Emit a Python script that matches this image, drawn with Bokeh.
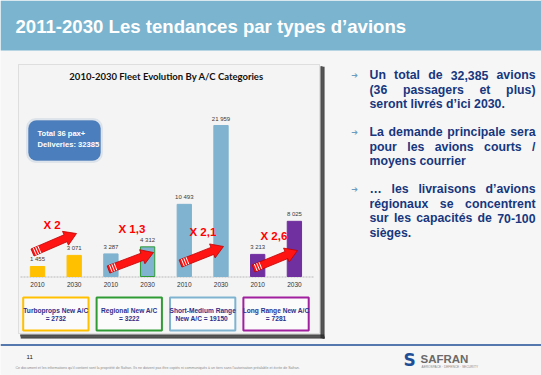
import numpy as np
from bokeh.plotting import figure
from bokeh.models import Range1d, BoxAnnotation
from bokeh.core.properties import value
from bokeh.embed import file_html
from bokeh.resources import INLINE

# ---------------- data ----------------
slide_title = "2011-2030 Les tendances par types d\u2019avions"
chart_title = "2010-2030 Fleet Evolution By A/C Categories"
years = ["2010", "2030"]
categories = ["Turboprops", "Regional", "Short-Medium Range", "Long Range"]
fleet_2010 = [1455, 3287, 10493, 3213]
fleet_2030 = [3071, 4312, 21959, 8025]
new_ac = [2732, 3222, 19150, 7281]
box_line1 = ["Turboprops New A/C", "Regional New A/C", "Short-Medium Range", "Long Range New A/C"]
box_line2 = ["= 2732", "= 3222", "New A/C  = 19150", "= 7281"]
growth_labels = ["X 2", "X 1,3", "X 2,1", "X 2,6"]
total_label = ["Total 36 pax+", "Deliveries: 32385"]
bar_colors = ["#ffc000", "#7fb3d0", "#7fb3d0", "#7030a0"]
box_colors = ["#ffc000", "#2e9b35", "#7fb3d0", "#a0209f"]
paragraphs = [
    ["Un total de 32,385 avions", "(36 passagers et plus)", "seront livr\u00e9s d\u2019ici 2030."],
    ["La demande principale sera", "pour les avions courts /", "moyens courrier"],
    ["\u2026 les livraisons d\u2019avions", "r\u00e9gionaux se concentrent",
     "sur les capacit\u00e9s de 70-100", "si\u00e8ges."],
]
footer_note = ("Ce document et les informations qu\u2019il contient sont la propri\u00e9t\u00e9 de Safran. "
               "Ils ne doivent pas \u00eatre copi\u00e9s ni communiqu\u00e9s \u00e0 un tiers sans l\u2019autorisation "
               "pr\u00e9alable et \u00e9crite de Safran.")

# ---------------- figure (pixel space, y down) ----------------
W, H = 541, 375
BG = "#f6f6f6"
p = figure(width=W, height=H, x_range=Range1d(0, W), y_range=Range1d(H, 0),
           x_axis_type=None, y_axis_type=None, toolbar_location=None,
           output_backend="svg", min_border=0)
p.grid.visible = False
p.outline_line_color = None
p.background_fill_color = BG
p.border_fill_color = BG

# bar scales: index axis and value axis mapped onto the slide
BAR0_PX, BAR_STEP_PX = 37.0, 36.7
BASE_PX, TOP_PX = 276.0, 125.0
vmax = max(fleet_2030 + fleet_2010)
vpp = vmax / (BASE_PX - TOP_PX)  # value per pixel
p.extra_x_ranges = {"bars": Range1d(-BAR0_PX / BAR_STEP_PX, (W - BAR0_PX) / BAR_STEP_PX)}
p.extra_y_ranges = {"vals": Range1d(-(H - BASE_PX) * vpp, BASE_PX * vpp)}

def ubox(**kw):
    p.add_layout(BoxAnnotation(level="underlay", fill_alpha=1, **kw))

# title band
ubox(left=0, right=W, top=0, bottom=50, fill_color="#7ab4cf", line_color=None)

# chart frame with dotted shadow
FL, FT, FR, FB = 18, 64, 319, 333
ubox(left=FR + 1, right=FR + 5, top=FT + 2, bottom=FB + 5, fill_color="#8c8c8c", line_color=None)
ubox(left=FL + 2, right=FR + 5, top=FB + 1, bottom=FB + 5, fill_color="#8c8c8c", line_color=None)
ubox(left=FL, right=FR, top=FT, bottom=FB, fill_color="#f4f4f4", line_color="#a8a8a8", line_width=1)
# total box
ubox(left=26, right=102, top=118, bottom=162, fill_color="#dde4ec", line_color="#c8d2de", border_radius=9)
ubox(left=28, right=100, top=120, bottom=160, fill_color="#4a7ebd", line_color="#3a6aa8",
     line_width=1, border_radius=8)

p.segment(x0=[FR + 2, FR + 4], y0=[FT + 2, FT + 3], x1=[FR + 2, FR + 4], y1=[FB + 5, FB + 5],
          line_color="#111111", line_width=2, line_dash="1 1")
p.segment(x0=[FL + 2, FL + 3], y0=[FB + 2, FB + 4], x1=[FR + 5, FR + 5], y1=[FB + 2, FB + 4],
          line_color="#111111", line_width=2, line_dash="1 1")

p.text(x=[15], y=[26], text=[slide_title], text_font=value("Liberation Sans"),
       text_font_style="bold", text_font_size="18.6px", text_color="white",
       text_baseline="middle", text_align="left")

p.text(x=[166], y=[76], text=[chart_title], text_font=value("Lato"), text_font_style="bold",
       text_font_size="9.5px", text_color="#111111", text_baseline="middle", text_align="center")

p.text(x=[37, 37], y=[132.5, 143.5], text=total_label, text_font=value("Liberation Sans"),
       text_font_style="bold", text_font_size="7.6px", text_color="white",
       text_align="left", text_baseline="middle")

# baseline
p.segment(x0=[FL + 2], y0=[BASE_PX + 0.5], x1=[FR - 6], y1=[BASE_PX + 0.5],
          line_color="#b8b8b8", line_width=1, line_dash="2 1")

# bars
n = len(categories)
idx = np.arange(2 * n)
vals = [v for pair in zip(fleet_2010, fleet_2030) for v in pair]
cols = [c for c in bar_colors for _ in years]
outline = list(cols)
outline[3] = "#2e9b35"
p.vbar(x=idx, top=vals, bottom=0, width=0.39, fill_color=cols, line_color=outline,
       line_width=1, x_range_name="bars", y_range_name="vals")

def fmt(v):
    return f"{v:,}".replace(",", " ")

p.text(x=idx, y=[v + 7 * vpp for v in vals], text=[fmt(v) for v in vals],
       text_font=value("Liberation Sans"), text_font_size="6px", text_color="#3a3a3a",
       text_align="center", text_baseline="middle", x_range_name="bars", y_range_name="vals")
p.text(x=idx, y=[-8 * vpp] * len(idx), text=[years[i % 2] for i in idx],
       text_font=value("Liberation Sans"), text_font_size="6.5px", text_color="#333333",
       text_align="center", text_baseline="middle", x_range_name="bars", y_range_name="vals")

# category boxes under bars
gx = np.arange(n) * 2
p.quad(left=gx - 0.39, right=gx + 1.39, top=[297] * n, bottom=[330] * n, fill_color="#fbfbfb",
       line_color=box_colors, line_width=2, x_range_name="bars")
p.text(x=gx + 0.5, y=[309.5] * n, text=box_line1, text_font=value("Liberation Sans"),
       text_font_style="bold", text_font_size="6.6px", text_color="#30308a",
       text_align="center", text_baseline="middle", x_range_name="bars")
p.text(x=gx + 0.5, y=[317.5] * n, text=box_line2, text_font=value("Liberation Sans"),
       text_font_style="bold", text_font_size="6.6px", text_color="#30308a",
       text_align="center", text_baseline="middle", x_range_name="bars")

# growth arrows
arrow_tails = [(32, 252), (108, 269), (180, 263), (253, 268)]
arrow_tips = [(76, 233), (153, 252), (223, 246), (297, 250)]
label_pos = [(43, 224), (118, 228), (189, 231), (260, 235)]
xs, ys, sx0, sy0, sx1, sy1 = [], [], [], [], [], []
for (x0, y0), (x1, y1) in zip(arrow_tails, arrow_tips):
    d = np.array([x1 - x0, y1 - y0], float)
    L = np.hypot(*d)
    u = d / L
    nrm = np.array([-u[1], u[0]])
    a = np.array([x0, y0], float)
    t = np.array([x1, y1], float)
    sw, hw, hl = 3.8, 7.5, 12.0
    b = t - u * hl
    pts = [a + nrm * sw, b + nrm * sw, b + nrm * hw, t, b - nrm * hw, b - nrm * sw, a - nrm * sw]
    xs.append([q[0] for q in pts])
    ys.append([q[1] for q in pts])
    for k in (2.5, 5.0, 7.5):
        c = a + u * k
        s0, s1 = c + nrm * sw, c - nrm * sw
        sx0.append(s0[0]); sy0.append(s0[1]); sx1.append(s1[0]); sy1.append(s1[1])
p.patches(xs=xs, ys=ys, fill_color="#ff1414", line_color="#c00000", line_width=0.8)
p.segment(x0=sx0, y0=sy0, x1=sx1, y1=sy1, line_color="white", line_width=1)
p.text(x=[q[0] for q in label_pos], y=[q[1] for q in label_pos], text=growth_labels,
       text_font=value("Liberation Sans"), text_font_style="bold", text_font_size="11.5px",
       text_color="#ff0000", text_align="left", text_baseline="middle")

# right-hand bullet text (justified)
AW = {' ': 278, 'a': 556, 'b': 611, 'c': 556, 'd': 611, 'e': 556, 'f': 333, 'g': 611, 'h': 611,
      'i': 278, 'j': 278, 'k': 556, 'l': 278, 'm': 889, 'n': 611, 'o': 611, 'p': 611, 'q': 611,
      'r': 389, 's': 556, 't': 333, 'u': 611, 'v': 556, 'w': 778, 'x': 556, 'y': 556, 'z': 500,
      '(': 333, ')': 333, ',': 278, '.': 278, '\u2019': 278, '/': 278, '-': 333, '\u00e9': 556,
      '\u00e8': 556, '\u2026': 1000, 'U': 722, 'L': 611}
FS = 12.3
def wwidth(s):
    return sum(AW.get(c, 556) for c in s) * FS / 1000

TL, TR = 369, 535
para_y = [74.5, 131.5, 188.5]
LH = 14.7
wx, wy, wt, bx, by = [], [], [], [], []
for y0, lines in zip(para_y, paragraphs):
    bx.append(354); by.append(y0)
    for j, line in enumerate(lines):
        y = y0 + j * LH
        words = line.split()
        if j == len(lines) - 1 or len(words) < 2:
            wx.append(TL); wy.append(y); wt.append(line)
            continue
        tot = sum(wwidth(w) for w in words)
        gap = (TR - TL - tot) / (len(words) - 1)
        x = TL
        for w in words:
            wx.append(x); wy.append(y); wt.append(w)
            x += wwidth(w) + gap
p.text(x=wx, y=wy, text=wt, text_font=value("Liberation Sans"), text_font_style="bold",
       text_font_size=f"{FS}px", text_color="#17377e", text_align="left", text_baseline="middle")
p.text(x=bx, y=by, text=["\u2794"] * len(bx), text_font=value("DejaVu Sans"),
       text_font_size="8px", text_color="#6a9cc0", text_align="center", text_baseline="middle")

# footer
p.segment(x0=[0], y0=[344.5], x1=[W], y1=[344.5], line_color="#1f4e96", line_width=1.5)
p.text(x=[26], y=[356], text=["11"], text_font=value("Liberation Sans"), text_font_size="6px",
       text_color="#111111", text_align="left", text_baseline="middle")
p.text(x=[15], y=[367], text=[footer_note], text_font=value("Liberation Sans"),
       text_font_size="3.6px", text_color="#8a8a8a", text_align="left", text_baseline="middle")
p.text(x=[409], y=[359], text=["S"], text_font=value("DejaVu Sans"), text_font_style="bold",
       text_font_size="17px", text_color="#1f4e96", text_align="center", text_baseline="middle")
p.text(x=[420], y=[358], text=["SAFRAN"], text_font=value("Liberation Sans"), text_font_style="bold",
       text_font_size="11.5px", text_color="#6a6a6a", text_align="left", text_baseline="middle")
p.text(x=[421], y=[366], text=["AEROSPACE \u00b7 DEFENCE \u00b7 SECURITY"], text_font=value("Liberation Sans"),
       text_font_size="3.2px", text_color="#8a8a8a", text_align="left", text_baseline="middle")

open("out.html", "w").write(file_html(p, INLINE))
